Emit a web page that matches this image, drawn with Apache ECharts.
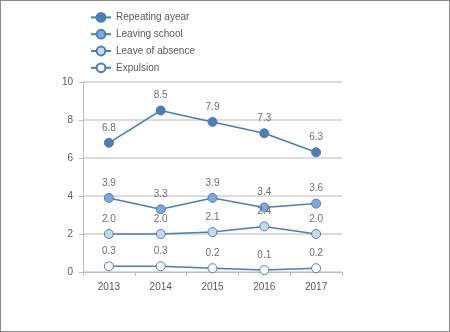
<!DOCTYPE html>
<html><head><meta charset="utf-8">
<script src="https://cdn.jsdelivr.net/npm/echarts@6/dist/echarts.min.js"></script>
<style>html,body{margin:0;padding:0;background:#fff}#c{width:450px;height:332px;box-sizing:border-box;border:1px solid #8c8c8c}</style>
</head><body><div id="c"></div>
<script>
const categories = ['2013','2014','2015','2016','2017'];
const repeatingYear = [6.8, 8.5, 7.9, 7.3, 6.3];
const leavingSchool = [3.9, 3.3, 3.9, 3.4, 3.6];
const leaveOfAbsence = [2.0, 2.0, 2.1, 2.4, 2.0];
const expulsion = [0.3, 0.3, 0.2, 0.1, 0.2];
const yTicks = [0, 2, 4, 6, 8, 10];

const lineColor = '#4a7ebb';
function mk(name, data, fill) {
  return {
    name, type: 'line', data,
    symbol: 'circle', symbolSize: 9,
    lineStyle: { color: lineColor, width: 1.5 },
    itemStyle: { color: fill, borderColor: lineColor, borderWidth: 1 },
    label: { show: true, position: 'top', distance: 5, color: '#6f6f6f', fontSize: 10, fontFamily: 'Liberation Sans',
      formatter: p => p.value.toFixed(1) },
    emphasis: { disabled: true },
    animation: false
  };
}
const chart = echarts.init(document.getElementById('c'), null, { renderer: 'canvas' });
chart.setOption({
  animation: false,
  legend: {
    orient: 'vertical', left: 84, top: 6, itemGap: 6, itemWidth: 20, itemHeight: 11,
    textStyle: { color: '#595959', fontSize: 10, fontFamily: 'Liberation Sans' },
    data: ['Repeating ayear', 'Leaving school', 'Leave of absence', 'Expulsion']
  },
  grid: { left: 82, right: 107, top: 81, bottom: 59, containLabel: false },
  xAxis: {
    type: 'category', data: categories, boundaryGap: true,
    axisLine: { lineStyle: { color: '#bfbfbf' } },
    axisTick: { show: true, length: 4, lineStyle: { color: '#bfbfbf' } },
    axisLabel: { color: '#595959', fontSize: 10, margin: 10, fontFamily: 'Liberation Sans' }
  },
  yAxis: {
    type: 'value', min: yTicks[0], max: yTicks[yTicks.length - 1], interval: 2,
    axisLine: { show: true, lineStyle: { color: '#bfbfbf' } },
    axisTick: { show: true, length: 4, lineStyle: { color: '#bfbfbf' } },
    axisLabel: { color: '#595959', fontSize: 10, margin: 10, fontFamily: 'Liberation Sans' },
    splitLine: { lineStyle: { color: '#d0d0d0', width: 1.5 } }
  },
  series: [
    mk('Repeating ayear', repeatingYear, '#4a7ebb'),
    mk('Leaving school', leavingSchool, '#7ea6df'),
    mk('Leave of absence', leaveOfAbsence, '#c6d9f1'),
    mk('Expulsion', expulsion, '#ffffff')
  ]
});
</script></body></html>
